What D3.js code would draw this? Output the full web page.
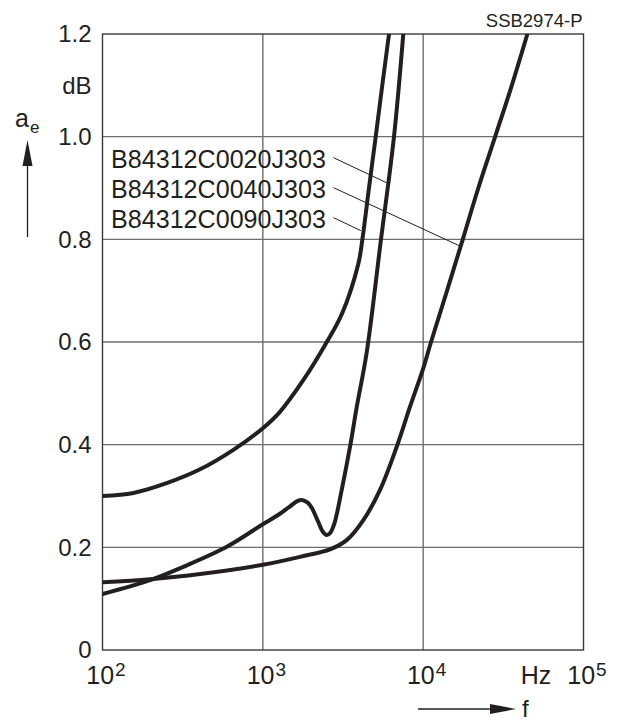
<!DOCTYPE html>
<html>
<head>
<meta charset="utf-8">
<script src="https://cdn.jsdelivr.net/npm/d3@7"></script>
<style>
  body { margin: 0; background: #fff; }
  svg text { font-family: "Liberation Sans", Arial, Helvetica, sans-serif; fill: #231f20; }
</style>
</head>
<body>
<svg id="chart" width="621" height="721"></svg>
<script>
// frequency in Hz, attenuation a_e in dB
var curve0090 = [
  [100, 0.300], [156, 0.306], [251, 0.325], [406, 0.352], [655, 0.390],
  [1000, 0.432], [1279, 0.464], [1791, 0.526], [2506, 0.600], [3126, 0.656],
  [3945, 0.753], [4178, 0.800], [4592, 0.900], [5058, 1.000], [5559, 1.100],
  [6124, 1.200]
];
var curve0020 = [
  [100, 0.109], [198, 0.136], [319, 0.162], [596, 0.201], [1000, 0.245],
  [1259, 0.264], [1479, 0.280], [1641, 0.290], [1750, 0.292], [1905, 0.287],
  [2018, 0.277], [2213, 0.250], [2371, 0.230], [2506, 0.224], [2630, 0.228],
  [2786, 0.245], [3105, 0.312], [3499, 0.396], [3855, 0.474], [4446, 0.580],
  [5458, 0.800], [6577, 1.000], [7516, 1.200]
];
var curve0040 = [
  [100, 0.132], [198, 0.138], [406, 0.148], [1000, 0.166], [1791, 0.183],
  [2624, 0.196], [3334, 0.214], [4236, 0.253], [5383, 0.312], [6839, 0.396],
  [8279, 0.474], [10000, 0.548], [11194, 0.600], [14028, 0.698], [17660, 0.800],
  [22080, 0.900], [28119, 1.000], [35727, 1.100], [44668, 1.200]
];

var partNames = ["B84312C0020J303", "B84312C0040J303", "B84312C0090J303"];
// point on the curve each part name points at [f, a_e]
var partTargets = [[5929, 0.910], [17219, 0.786], [4083, 0.817]];

var xTicks = [100, 1000, 10000, 100000];
var yTicks = [0, 0.2, 0.4, 0.6, 0.8, 1.0, 1.2];
var codeLabel = "SSB2974-P";

var svg = d3.select("#chart");
var plotLeft = 102.5, plotRight = 583.5, plotTop = 34, plotBottom = 650;

var x = d3.scaleLog().domain([100, 100000]).range([plotLeft, plotRight]);
var y = d3.scaleLinear().domain([0, 1.2]).range([plotBottom, plotTop]);

// grid
svg.append("g").selectAll("line")
  .data(xTicks.slice(1, -1))
  .enter().append("line")
  .attr("x1", function(d) { return x(d); }).attr("x2", function(d) { return x(d); })
  .attr("y1", plotTop).attr("y2", plotBottom)
  .attr("stroke", "#6d6d6d").attr("stroke-width", 1.4);

svg.append("g").selectAll("line")
  .data(yTicks.slice(1, -1))
  .enter().append("line")
  .attr("x1", plotLeft).attr("x2", plotRight)
  .attr("y1", function(d) { return y(d); }).attr("y2", function(d) { return y(d); })
  .attr("stroke", "#6d6d6d").attr("stroke-width", 1.4);

// frame
svg.append("rect")
  .attr("x", plotLeft).attr("y", plotTop)
  .attr("width", plotRight - plotLeft).attr("height", plotBottom - plotTop)
  .attr("fill", "none").attr("stroke", "#3a3a3a").attr("stroke-width", 1.4);

// y axis labels
var yAxis = d3.axisLeft(y).tickValues(yTicks).tickSize(0).tickPadding(11)
  .tickFormat(function(d) { return d === 0 ? "0" : d3.format(".1f")(d); });
var gy = svg.append("g").attr("transform", "translate(" + plotLeft + ",0)").call(yAxis);
gy.select(".domain").remove();
gy.selectAll("text").attr("font-size", 24).attr("font-family", null).attr("fill", "#231f20");

svg.append("text").attr("x", plotLeft - 11).attr("y", y(1.1)).attr("dy", "0.36em")
  .attr("text-anchor", "end").attr("font-size", 24).text("dB");

// x axis labels (powers of ten)
var xl = svg.append("g").selectAll("text")
  .data(xTicks)
  .enter().append("text")
  .attr("x", function(d) { return x(d) + 3.5; })
  .attr("y", 684)
  .attr("text-anchor", "middle")
  .attr("font-size", 25);
xl.append("tspan").text("10");
xl.append("tspan").attr("dy", -8).attr("dx", 1).attr("font-size", 19)
  .text(function(d) { return Math.round(Math.log10(d)); });

svg.append("text").attr("x", 536).attr("y", 684).attr("text-anchor", "middle")
  .attr("font-size", 25).text("Hz");

// axis names with arrows
var ae = svg.append("text").attr("x", 15).attr("y", 127).attr("font-size", 25);
ae.append("tspan").text("a");
ae.append("tspan").attr("dy", 6).attr("dx", 1).attr("font-size", 17).text("e");

svg.append("line").attr("x1", 27.5).attr("x2", 27.5).attr("y1", 237).attr("y2", 160)
  .attr("stroke", "#231f20").attr("stroke-width", 1.3);
svg.append("path").attr("d", "M27.5,140L22.5,166L32.5,166Z").attr("fill", "#231f20");

svg.append("line").attr("x1", 418).attr("x2", 495).attr("y1", 709).attr("y2", 709)
  .attr("stroke", "#231f20").attr("stroke-width", 1.3);
svg.append("path").attr("d", "M516,709L490,704L490,714Z").attr("fill", "#231f20");
svg.append("text").attr("x", 522).attr("y", 717).attr("font-size", 24).text("f");

svg.append("text").attr("x", plotRight - 1).attr("y", 27).attr("text-anchor", "end")
  .attr("font-size", 18.5).text(codeLabel);

// curves
svg.append("clipPath").attr("id", "plotclip").append("rect")
  .attr("x", plotLeft).attr("y", plotTop).attr("width", plotRight - plotLeft).attr("height", plotBottom - plotTop);

var line = d3.line()
  .x(function(d) { return x(d[0]); })
  .y(function(d) { return y(d[1]); })
  .curve(d3.curveCatmullRom.alpha(0.5));

svg.append("g").attr("clip-path", "url(#plotclip)").selectAll("path")
  .data([curve0090, curve0020, curve0040])
  .enter().append("path")
  .attr("d", line)
  .attr("fill", "none").attr("stroke", "#231f20").attr("stroke-width", 4)
  .attr("stroke-linecap", "round").attr("stroke-linejoin", "round");

// part names and leader lines
var baseY = y(1.0) + 31;
svg.append("g").selectAll("text")
  .data(partNames)
  .enter().append("text")
  .attr("x", plotLeft + 8.5)
  .attr("y", function(d, i) { return baseY + i * 30; })
  .attr("font-size", 26.5)
  .attr("textLength", 215)
  .attr("lengthAdjust", "spacingAndGlyphs")
  .text(function(d) { return d; });

svg.append("g").selectAll("line")
  .data(partTargets)
  .enter().append("line")
  .attr("x1", plotLeft + 231)
  .attr("y1", function(d, i) { return baseY + i * 30 - 10; })
  .attr("x2", function(d) { return x(d[0]); })
  .attr("y2", function(d) { return y(d[1]); })
  .attr("stroke", "#231f20").attr("stroke-width", 1);
</script>
</body>
</html>
